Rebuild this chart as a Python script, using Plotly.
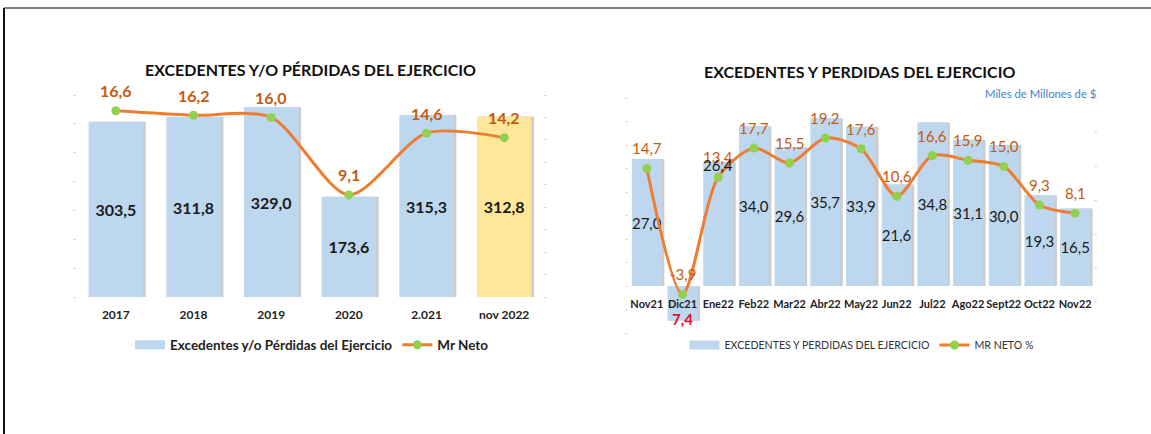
import plotly.graph_objects as go

# Annual chart data
anios = ['2017', '2018', '2019', '2020', '2.021', 'nov 2022']
excedentes_anual = [303.5, 311.8, 329.0, 173.6, 315.3, 312.8]
mr_neto_anual = [16.6, 16.2, 16.0, 9.1, 14.6, 14.2]

# Monthly chart data
meses = ['Nov21', 'Dic21', 'Ene22', 'Feb22', 'Mar22', 'Abr22', 'May22',
         'Jun22', 'Jul22', 'Ago22', 'Sept22', 'Oct22', 'Nov22']
excedentes_mes = [27.0, -7.4, 26.4, 34.0, 29.6, 35.7, 33.9, 21.6, 34.8, 31.1, 30.0, 19.3, 16.5]
mr_neto_mes = [14.7, -3.9, 13.4, 17.7, 15.5, 19.2, 17.6, 10.6, 16.6, 15.9, 15.0, 9.3, 8.1]
# month whose bar label was dragged up to the top of the bar in the original
mes_etiqueta_arriba = 'Ene22'

W, H = 1151, 434
FONT = 'Lato'
AZUL = '#BDD7EE'
AMARILLO = '#FFE699'
NARANJA = '#ED7D31'
VERDE = '#92D050'
ETIQUETA = '#C55A11'
SOMBRA = 'rgba(110,110,110,0.35)'


def fmt(v):
    return f'{v:.1f}'.replace('.', ',')


def px_x(p):
    return p / W


def px_y(p):
    return 1 - p / H


fig = go.Figure()

# ---- left chart: annual ----
ancho_anual = 0.7
colores_anual = [AZUL] * (len(anios) - 1) + [AMARILLO]
# soft shadow to the right of each bar
fig.add_trace(go.Bar(
    x=anios, y=excedentes_anual, marker=dict(color=SOMBRA, line=dict(width=0)),
    width=ancho_anual, offset=-ancho_anual / 2 + 0.035,
    xaxis='x', yaxis='y', showlegend=False, hoverinfo='skip'))
fig.add_trace(go.Bar(
    x=anios, y=excedentes_anual, marker=dict(color=colores_anual, line=dict(width=0)),
    width=ancho_anual, text=[fmt(v) for v in excedentes_anual], textposition='inside',
    insidetextanchor='middle', textangle=0, constraintext='none',
    textfont=dict(family=FONT, size=16, color='#1a1a1a', weight='bold'),
    xaxis='x', yaxis='y', showlegend=False, hoverinfo='x+y'))
fig.add_trace(go.Scatter(
    x=[None], y=[None], mode='lines', line=dict(color=AZUL, width=9),
    name='Excedentes y/o Pérdidas del Ejercicio', xaxis='x', yaxis='y', legend='legend'))
fig.add_trace(go.Scatter(
    x=anios, y=mr_neto_anual, mode='lines+markers', name='Mr Neto',
    line=dict(color=NARANJA, width=3, shape='spline', smoothing=0.8),
    marker=dict(color=VERDE, size=9),
    xaxis='x', yaxis='y2', legend='legend'))

# ---- right chart: monthly ----
ancho_mes = 0.84
texto_mes = ['' if (v < 0 or m == mes_etiqueta_arriba) else fmt(v)
             for m, v in zip(meses, excedentes_mes)]
fig.add_trace(go.Bar(
    x=meses, y=excedentes_mes, marker=dict(color=SOMBRA, line=dict(width=0)),
    width=ancho_mes, offset=-ancho_mes / 2 + 0.07,
    xaxis='x2', yaxis='y3', showlegend=False, hoverinfo='skip'))
fig.add_trace(go.Bar(
    x=meses, y=excedentes_mes, marker=dict(color=AZUL, line=dict(width=0)),
    width=ancho_mes, text=texto_mes,
    textposition='inside', insidetextanchor='middle', textangle=0, constraintext='none',
    textfont=dict(family=FONT, size=15, color='#1a1a1a'),
    xaxis='x2', yaxis='y3', showlegend=False, hoverinfo='x+y'))
fig.add_trace(go.Scatter(
    x=[None], y=[None], mode='lines', line=dict(color=AZUL, width=9),
    name='EXCEDENTES Y PERDIDAS DEL EJERCICIO', xaxis='x2', yaxis='y3', legend='legend2'))
fig.add_trace(go.Scatter(
    x=meses, y=mr_neto_mes, mode='lines+markers', name='MR NETO %',
    line=dict(color=NARANJA, width=3, shape='spline', smoothing=0.8),
    marker=dict(color=VERDE, size=9),
    xaxis='x2', yaxis='y4', legend='legend2'))

annotations = []
# line value labels (category index, since the year names look numeric)
for i, v in enumerate(mr_neto_anual):
    annotations.append(dict(x=i, y=v, xref='x', yref='y2', text=fmt(v), showarrow=False,
                            yshift=20, font=dict(family=FONT, size=16, color=ETIQUETA, weight='bold')))
for i, v in enumerate(mr_neto_mes):
    annotations.append(dict(x=i, y=v, xref='x2', yref='y4', text=fmt(v), showarrow=False,
                            yshift=20, font=dict(family=FONT, size=15, color=ETIQUETA)))
for i, (m, v) in enumerate(zip(meses, excedentes_mes)):
    if v < 0:
        # negative bar label in red, shown without sign
        annotations.append(dict(x=i, y=v, xref='x2', yref='y3', text=fmt(abs(v)), showarrow=False,
                                yanchor='middle', yshift=2,
                                font=dict(family=FONT, size=15, color='#E0102A', weight='bold')))
    elif m == mes_etiqueta_arriba:
        annotations.append(dict(x=i, y=v, xref='x2', yref='y3', text=fmt(v), showarrow=False,
                                yanchor='middle', yshift=-3,
                                font=dict(family=FONT, size=15, color='#1a1a1a')))
# titles
annotations += [
    dict(x=px_x(310), y=px_y(70), xref='paper', yref='paper', showarrow=False,
         xanchor='center', yanchor='middle',
         text='EXCEDENTES Y/O PÉRDIDAS DEL EJERCICIO',
         font=dict(family=FONT, size=16, color='#111111', weight='bold')),
    dict(x=px_x(860), y=px_y(72), xref='paper', yref='paper', showarrow=False,
         xanchor='center', yanchor='middle',
         text='EXCEDENTES Y PERDIDAS DEL EJERCICIO',
         font=dict(family=FONT, size=16, color='#111111', weight='bold')),
    dict(x=px_x(1098), y=px_y(93), xref='paper', yref='paper', showarrow=False,
         xanchor='right', yanchor='middle', text='Miles de Millones de $',
         font=dict(family=FONT, size=11.3, color='#3D85C6')),
]

tick_y = dict(showgrid=False, zeroline=False, showline=False, showticklabels=False,
              ticks='outside', ticklen=3, tickcolor='#d9d9d9', fixedrange=True)

fig.update_layout(
    width=W, height=H,
    margin=dict(l=0, r=0, t=0, b=0),
    paper_bgcolor='white', plot_bgcolor='white',
    font=dict(family=FONT, color='#222222'),
    barmode='overlay',
    xaxis=dict(domain=[px_x(77), px_x(543)], anchor='y', type='category',
               range=[-0.5, len(anios) - 0.5], showgrid=False,
               zeroline=False, showline=False, ticks='', ticklabelstandoff=9, tickangle=0,
               tickfont=dict(family=FONT, size=12, color='#222222', weight='bold')),
    yaxis=dict(domain=[px_y(297), px_y(95)], range=[0, 350], dtick=50, anchor='x', **tick_y),
    yaxis2=dict(range=[0, 18], dtick=2, overlaying='y', side='right', anchor='x', **tick_y),
    xaxis2=dict(domain=[px_x(629), px_x(1093)], anchor='free', position=px_y(286),
                type='category', range=[-0.5, len(meses) - 0.5], showgrid=False,
                zeroline=False, showline=False, ticks='', ticklabelstandoff=10, tickangle=0,
                tickfont=dict(family=FONT, size=11, color='#222222', weight='bold')),
    yaxis3=dict(domain=[px_y(333), px_y(98)], range=[-10, 40], dtick=5, anchor='x2', **tick_y),
    yaxis4=dict(range=[-9.6, 25.1], dtick=5, overlaying='y3', side='right', anchor='x2', **tick_y),
    legend=dict(orientation='h', x=px_x(312), y=px_y(345), xanchor='center', yanchor='middle',
                font=dict(family=FONT, size=13.5, color='#222222', weight='bold'),
                bgcolor='rgba(0,0,0,0)'),
    legend2=dict(orientation='h', x=px_x(862), y=px_y(345), xanchor='center', yanchor='middle',
                 font=dict(family=FONT, size=10.6, color='#333333'),
                 bgcolor='rgba(0,0,0,0)'),
    annotations=annotations,
    shapes=[
        dict(type='line', xref='paper', yref='paper', x0=px_x(4), x1=1, y0=px_y(8), y1=px_y(8),
             line=dict(color='#7f7f7f', width=2)),
        dict(type='line', xref='paper', yref='paper', x0=px_x(4), x1=px_x(4), y0=0, y1=px_y(8),
             line=dict(color='#111111', width=2)),
    ],
)

# the page body keeps a default 8px margin; drop it so the figure sits at the corner
fig.write_html('out.html', config={'displayModeBar': False},
               post_script="document.body.style.margin='0';")
